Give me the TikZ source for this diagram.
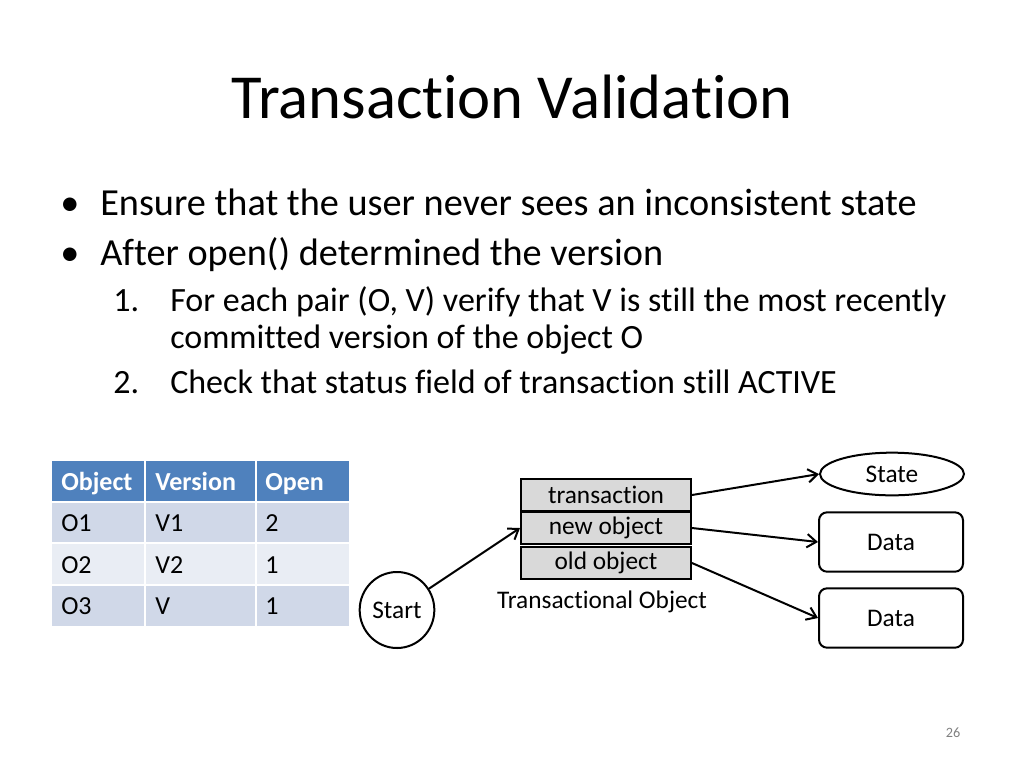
\documentclass[tikz,border=0pt]{standalone}
\usepackage{fontspec}
\setmainfont[Ligatures={NoCommon}]{Carlito}
\usetikzlibrary{shapes.geometric,arrows.meta}
\definecolor{hdr}{HTML}{4F81BD}
\definecolor{rowa}{HTML}{D0D8E8}
\definecolor{rowb}{HTML}{E9EDF4}
\definecolor{boxg}{HTML}{D9D9D9}
\tikzset{
 txt/.style={anchor=base west,inner sep=0pt},
 bul/.style={txt,font=\fontsize{28.7}{34}\selectfont},
 sub/.style={txt,font=\fontsize{25.5}{30}\selectfont},
 cell/.style={txt,font=\fontsize{19.5}{23}\selectfont},
 hcell/.style={cell,text=white,font=\fontsize{19.5}{23}\selectfont\bfseries},
 dfont/.style={font=\fontsize{19}{22}\selectfont},
 field/.style={draw,line width=1.5pt,fill=boxg,minimum width=127.5pt,minimum height=24.5pt,inner sep=0pt,dfont},
 dbox/.style={draw,line width=1.5pt,rounded corners=6pt,minimum width=108pt,minimum height=44.5pt,dfont},
 arr/.style={line width=1.5pt,-{Straight Barb[length=7pt,width=10pt]}},
}
\begin{document}
\begin{tikzpicture}[x=0.75pt,y=-0.75pt]
\path[use as bounding box] (0,0) rectangle (1024,768);
\node[font=\fontsize{47}{56}\selectfont] (title) at (512,97) {Transaction Validation};
\node[bul] (b1dot) at (60,215) {•};
\node[bul] (b1) at (100,215) {Ensure that the user never sees an inconsistent state};
\node[bul] (b2dot) at (60,265) {•};
\node[bul] (b2) at (100,265) {After open() determined the version};
\node[sub] (n1) at (113,311) {1.};
\node[sub] (s1) at (170,311) {For each pair (O, V) verify that V is still the most recently};
\node[sub] (s1b) at (170,348) {committed version of the object O};
\node[sub] (n2) at (113,393) {2.};
\node[sub] (s2) at (170,393) {Check that status field of transaction still ACTIVE};
% table
\fill[hdr] (52,461) rectangle (349,502);
\fill[rowa] (52,502) rectangle (349,543);
\fill[rowb] (52,543) rectangle (349,585);
\fill[rowa] (52,585) rectangle (349,626);
\foreach \y in {502,543,585} \draw[white,thick] (52,\y) -- (349,\y);
\foreach \x in {145,256} \draw[white,thick] (\x,461) -- (\x,626);
\node[hcell] (h1) at (61,490) {Object};
\node[hcell] (h2) at (155,490) {Version};
\node[hcell] (h3) at (265,490) {Open};
\node[cell] (c11) at (61,531) {O1};
\node[cell] (c12) at (155,531) {V1};
\node[cell] (c13) at (265,531) {2};
\node[cell] (c21) at (61,573) {O2};
\node[cell] (c22) at (155,573) {V2};
\node[cell] (c23) at (265,573) {1};
\node[cell] (c31) at (61,614) {O3};
\node[cell] (c32) at (155,614) {V};
\node[cell] (c33) at (265,614) {1};
% diagram
\node[draw,line width=1.5pt,ellipse,minimum width=56pt,minimum height=57pt,inner sep=0pt,dfont] (start) at (397,610) {Start};
\node[field] (tr) at (606,495) {transaction};
\node[field] (no) at (606,528) {new object};
\node[field] (oo) at (606,563) {old object};
\node[dfont] (tolbl) at (602,602) {Transactional Object};
\node[draw,line width=1.5pt,ellipse,minimum width=108pt,minimum height=32pt,inner sep=0pt,dfont] (state) at (892,474) {State};
\node[dbox] (d1) at (891,542) {Data};
\node[dbox] (d2) at (891,618) {Data};
\draw[arr] (start) -- (no.west);
\draw[arr] (tr.east) -- (state.west);
\draw[arr] (no.east) -- (d1.west);
\draw[arr] (oo.east) -- (d2.west);
\node[text=gray,font=\fontsize{10.7}{13}\selectfont] (pg) at (953,733) {26};
\end{tikzpicture}
\end{document}
